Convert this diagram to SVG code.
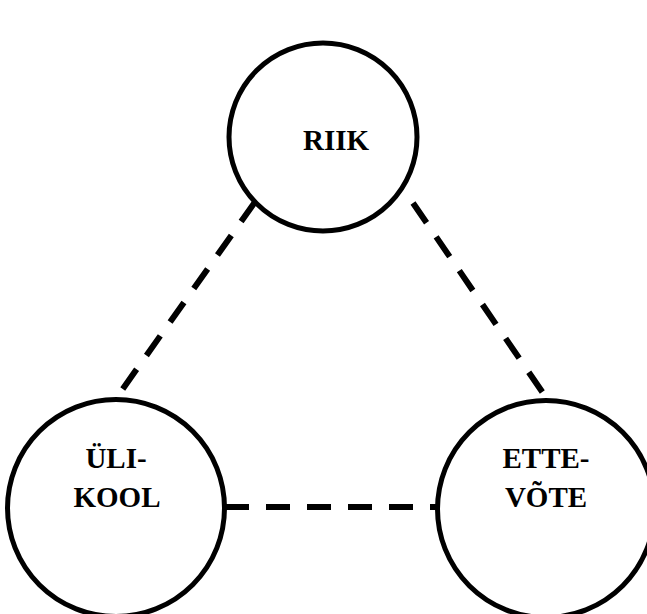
<svg xmlns="http://www.w3.org/2000/svg" width="647" height="614" viewBox="0 0 647 614">
<style>
.node{fill:#fff;stroke:#000;stroke-width:5}
.lbl{font-family:"Liberation Serif","Times New Roman",serif;font-weight:bold;font-size:29px;fill:#000;text-anchor:middle}
.conn{stroke:#000;stroke-width:6;stroke-dasharray:24 17;fill:none}
</style>
<rect width="647" height="614" fill="#fff"/>
<g id="connectors">
<line class="conn" x1="255" y1="202" x2="122" y2="390"/>
<line class="conn" x1="413" y1="203" x2="543" y2="393"/>
<line class="conn" x1="225" y1="507" x2="437" y2="507"/>
</g>
<g id="riik">
<circle class="node" cx="323" cy="137" r="94"/>
<text class="lbl" x="336" y="150">RIIK</text>
</g>
<g id="ulikool">
<circle class="node" cx="116" cy="508" r="108.5"/>
<text class="lbl" x="116" y="468">ÜLI-</text>
<text class="lbl" x="117" y="507">KOOL</text>
</g>
<g id="ettevote">
<circle class="node" cx="546" cy="509" r="108.5"/>
<text class="lbl" x="546" y="468">ETTE-</text>
<text class="lbl" x="546" y="507">VÕTE</text>
</g>
</svg>
